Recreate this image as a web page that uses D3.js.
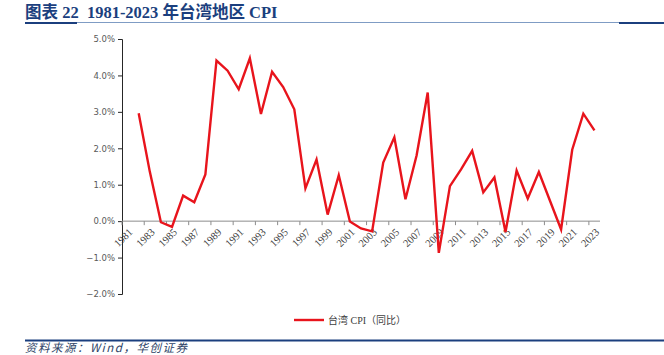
<!DOCTYPE html>
<html><head><meta charset="utf-8">
<script src="https://cdn.jsdelivr.net/npm/d3@7"></script>
<style>body{margin:0;background:#fff;}svg{display:block;}</style>
</head><body>
<svg id="c" width="664" height="355"></svg>
<script>
const years = d3.range(1981, 2024);
// 1981 value is not shown in the chart (off scale)
const cpi = [null, 2.96, 1.36, -0.03, -0.16, 0.70, 0.52, 1.28, 4.41, 4.13, 3.62, 4.47, 2.94, 4.10, 3.68, 3.07, 0.90, 1.69, 0.18, 1.26, -0.01, -0.20, -0.28, 1.61, 2.30, 0.60, 1.80, 3.53, -0.87, 0.96, 1.42, 1.93, 0.79, 1.20, -0.30, 1.39, 0.62, 1.35, 0.56, -0.23, 1.96, 2.95, 2.49];
const yTicks = [-2, -1, 0, 1, 2, 3, 4, 5];
const xLabelYears = years.filter((y, i) => i % 2 === 0);
const title = "图表 22  1981-2023 年台湾地区 CPI";
const legendLabel = "台湾 CPI（同比）";
const source = "资料来源：Wind，华创证券";

const svg = d3.select("#c");
const blue = "#1b3f7e";

// header
svg.append("text").attr("x", 25).attr("y", 18).text(title)
  .style("white-space", "pre")
  .attr("font-family", "'Liberation Serif','Noto Sans CJK SC',serif").attr("font-weight", "bold")
  .attr("font-size", 16.5).attr("fill", blue);
svg.append("line").attr("x1", 77).attr("x2", 622).attr("y1", 22.5).attr("y2", 22.5).attr("stroke", "#7f9cc4").attr("stroke-width", 1);
svg.append("line").attr("x1", 25).attr("x2", 77).attr("y1", 23).attr("y2", 23).attr("stroke", blue).attr("stroke-width", 2);
svg.append("line").attr("x1", 619).attr("x2", 664).attr("y1", 23).attr("y2", 23).attr("stroke", blue).attr("stroke-width", 2);

const x = d3.scaleBand().domain(years).range([122, 600]).padding(0);
const y = d3.scaleLinear().domain([-2, 5]).range([294, 39]);
const cx = d => x(d) + x.bandwidth() / 2;

// y axis
const yAxis = d3.axisLeft(y).tickValues(yTicks).tickSize(4).tickFormat(d => d3.format(".1f")(d) + "%");
const gy = svg.append("g").attr("transform", "translate(122,0)").call(yAxis);
gy.select(".domain").attr("stroke", "#262626").attr("stroke-width", 1);
gy.selectAll(".tick line").attr("stroke", "#262626");
gy.selectAll(".tick text").attr("font-family", "'DejaVu Sans',sans-serif").attr("font-size", 8.5).attr("fill", "#595959").attr("x", -7);

// zero axis line with ticks between categories every 2
svg.append("line").attr("x1", 122).attr("x2", 600).attr("y1", y(0)).attr("y2", y(0)).attr("stroke", "#8c8c8c").attr("stroke-width", 1);
const tickPos = d3.range(0, years.length + 1, 2).map(i => 122 + i * x.bandwidth());
svg.selectAll(".xt").data(tickPos).join("line")
  .attr("x1", d => d).attr("x2", d => d).attr("y1", y(0)).attr("y2", y(0) + 4)
  .attr("stroke", "#8c8c8c");

// x labels
svg.selectAll(".xl").data(xLabelYears).join("text")
  .attr("transform", d => `translate(${cx(d) + 3},${y(0) + 9}) rotate(-45)`)
  .attr("text-anchor", "end").attr("dy", "0.35em")
  .attr("font-family", "'Liberation Serif',serif").attr("font-size", 10.5).attr("fill", "#404040")
  .text(d => d);

// line
const line = d3.line().defined(d => d.v != null).x(d => cx(d.year)).y(d => y(d.v));
const pts = years.map((yr, i) => ({year: yr, v: cpi[i]}));
svg.append("path").datum(pts).attr("d", line).attr("fill", "none")
  .attr("stroke", "#e8141c").attr("stroke-width", 2.4).attr("stroke-linejoin", "miter");

// legend
svg.append("line").attr("x1", 294).attr("x2", 324).attr("y1", 320).attr("y2", 320).attr("stroke", "#e8141c").attr("stroke-width", 2.4);
svg.append("text").attr("x", 328).attr("y", 324).text(legendLabel)
  .attr("font-family", "'Liberation Serif','Noto Sans CJK SC',serif").attr("font-size", 10).attr("fill", "#404040");

// footer
svg.append("line").attr("x1", 25).attr("x2", 664).attr("y1", 340.5).attr("y2", 340.5).attr("stroke", blue).attr("stroke-width", 2);
svg.append("text").attr("x", 25).attr("y", 352).text(source)
  .attr("font-family", "'Noto Sans CJK SC',sans-serif").attr("font-style", "italic").attr("font-size", 11.5)
  .attr("letter-spacing", 1.5).attr("fill", "#2d3f66");
</script>
</body></html>
